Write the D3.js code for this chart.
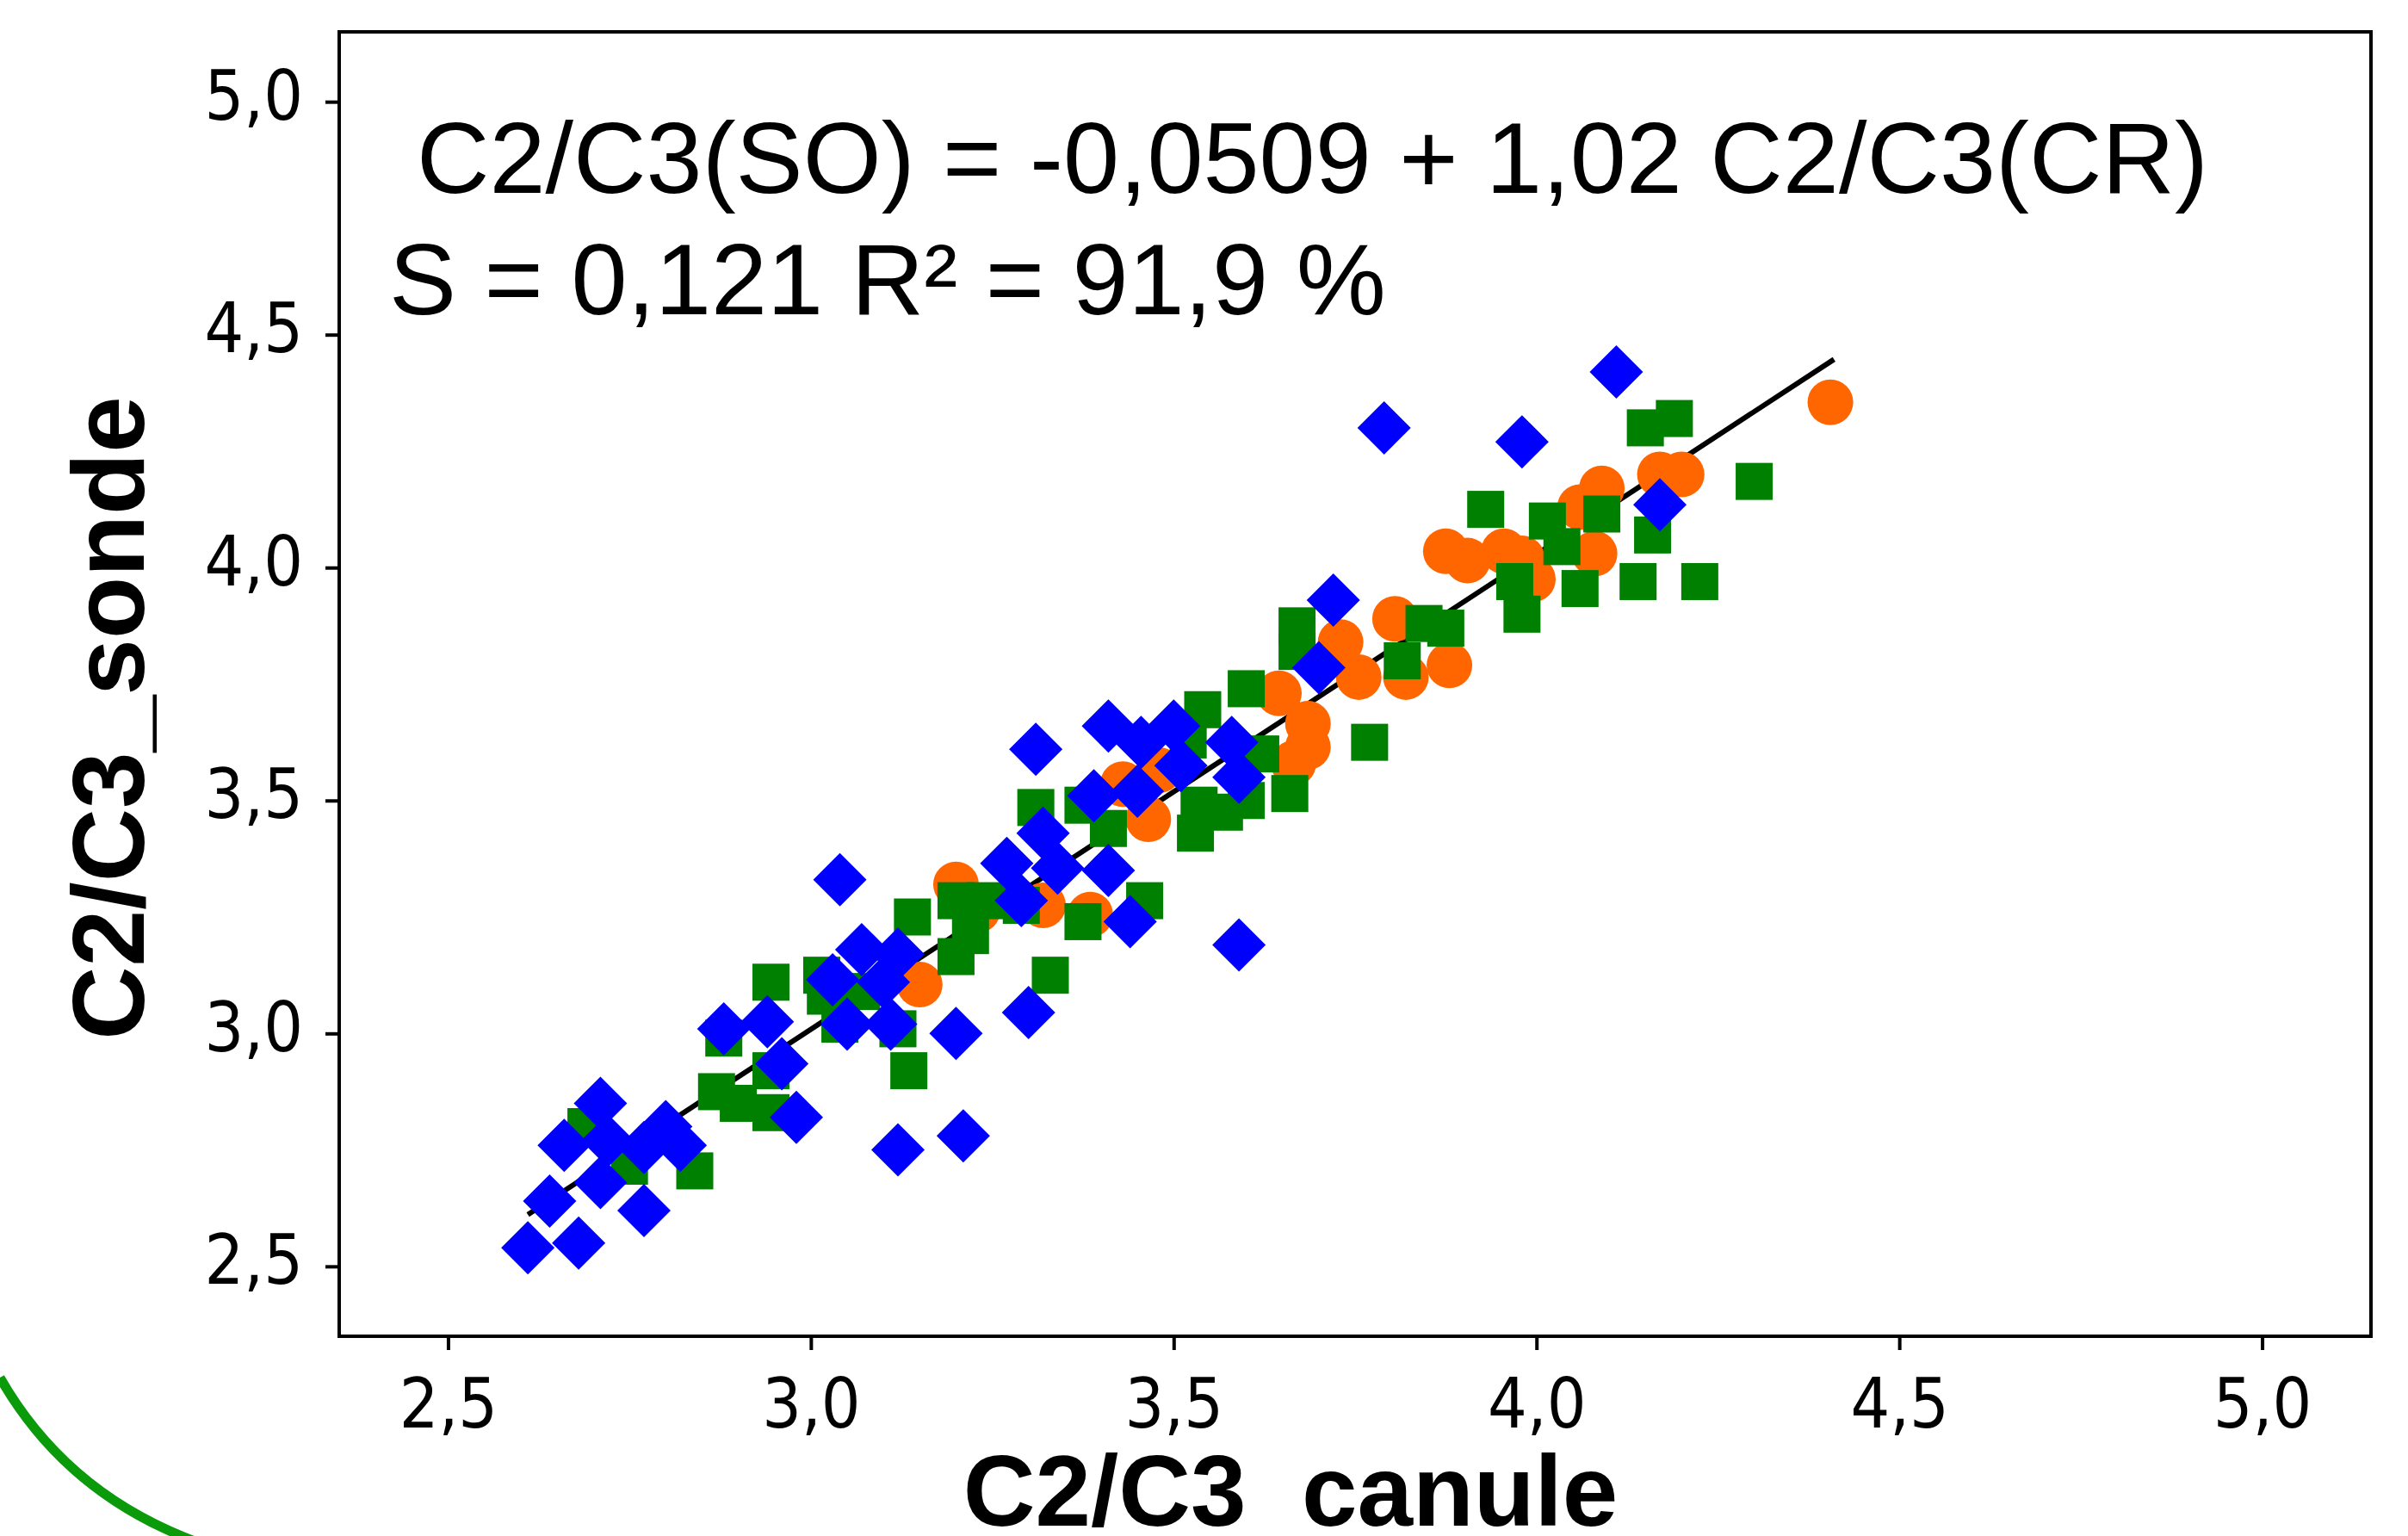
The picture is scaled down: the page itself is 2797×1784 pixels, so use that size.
<!DOCTYPE html>
<html>
<head>
<meta charset="utf-8">
<script src="https://cdn.jsdelivr.net/npm/d3@7"></script>
<style>
  body { margin: 0; background: #fff; }
  svg { display: block; }
</style>
</head>
<body>
<script>
// data

const xTicks = [2.5, 3.0, 3.5, 4.0, 4.5, 5.0];
const yTicks = [2.5, 3.0, 3.5, 4.0, 4.5, 5.0];

const orangeX = [3.20, 3.15, 3.23, 3.875, 3.805, 3.73, 3.755, 3.82, 3.88, 3.645, 3.685, 3.685, 3.665, 3.48,
  3.465, 3.43, 3.385, 3.32, 4.405, 4.09, 4.06, 4.17, 4.20, 3.905, 3.955, 3.98, 4.08, 3.995];
const orangeY = [3.32, 3.105, 3.265, 4.035, 3.89, 3.84, 3.765, 3.765, 3.79, 3.73, 3.665, 3.615, 3.58, 3.565,
  3.46, 3.535, 3.255, 3.275, 4.355, 4.17, 4.13, 4.20, 4.20, 4.015, 4.035, 4.02, 4.03, 3.975];

const greenX = [2.945, 2.84, 3.135, 2.87, 2.90, 2.945, 2.945, 2.88, 2.69, 2.75, 3.015, 3.02, 3.04, 3.12,
  3.14, 3.20, 3.22, 3.20, 3.33, 3.29, 3.07, 3.67, 3.67, 3.60, 3.54, 3.77, 3.66, 3.845, 3.875, 3.815,
  3.53, 3.535, 3.57, 3.60, 3.31, 3.375, 3.41, 3.46, 3.375, 3.24, 4.19, 4.15, 4.30, 3.93, 4.015, 4.09,
  4.16, 4.035, 3.97, 3.98, 4.06, 4.14, 4.225, 3.52, 3.62];
const greenY = [3.11, 2.705, 2.92, 2.875, 2.85, 2.83, 2.92, 2.99, 2.80, 2.715, 3.125, 3.08, 3.02, 3.01,
  3.25, 3.285, 3.21, 3.165, 3.125, 3.275, 3.09, 3.875, 3.82, 3.74, 3.695, 3.625, 3.515, 3.88, 3.87, 3.80,
  3.43, 3.49, 3.475, 3.50, 3.485, 3.49, 3.44, 3.285, 3.24, 3.285, 4.32, 4.30, 4.185, 4.125, 4.10, 4.115,
  4.07, 4.045, 3.97, 3.90, 3.955, 3.97, 3.97, 3.63, 3.60];

const blueX = [2.61, 2.68, 2.64, 2.66, 2.71, 2.71, 2.77, 2.80, 2.77, 2.82, 2.72, 2.88, 2.94, 2.96, 2.98,
  3.04, 3.07, 3.12, 3.03, 3.10, 3.05, 3.11, 3.20, 3.30, 3.12, 3.21, 3.27, 3.72, 3.70, 3.31, 3.41, 3.50,
  3.58, 3.59, 3.51, 3.39, 3.45, 3.32, 3.34, 3.29, 3.41, 3.44, 3.59, 4.11, 3.98, 3.79, 4.17, 3.455];
const blueY = [2.54, 2.55, 2.64, 2.76, 2.85, 2.68, 2.62, 2.80, 2.755, 2.76, 2.77, 3.01, 3.025, 2.935, 2.82,
  3.33, 3.18, 3.17, 3.115, 3.11, 3.02, 3.02, 3.00, 3.045, 2.75, 2.78, 3.365, 3.93, 3.785, 3.61, 3.66, 3.66,
  3.625, 3.55, 3.575, 3.51, 3.52, 3.43, 3.355, 3.285, 3.35, 3.24, 3.19, 4.42, 4.27, 4.30, 4.135, 3.625];

// fitted line end points
const fitX = [2.61, 4.41];
const fitY = [2.611, 4.447];

const w = 2797;
const h = 1784;
const plotLeft = 394, plotRight = 2754, plotTop = 37, plotBottom = 1552;

const xScale = d3.scaleLinear().domain([2.35, 5.15]).range([plotLeft, plotRight]);
const yScale = d3.scaleLinear().domain([2.35, 5.15]).range([plotBottom, plotTop]);

const fmt = (d) => d3.format(".1f")(d).replace(".", ",");
const tickFont = "'DejaVu Sans Condensed', 'DejaVu Sans', sans-serif";
const titleFont = "'Liberation Sans', Arial, sans-serif";

const svg = d3.select("body")
  .append("svg")
  .attr("width", w)
  .attr("height", h);

svg.append("rect")
  .attr("width", w)
  .attr("height", h)
  .attr("fill", "#fff");

// decorative arc of the slide, bottom left
svg.append("path")
  .attr("d", "M 0 1600 Q 80 1740 240 1795")
  .attr("fill", "none")
  .attr("stroke", "#0a9a0a")
  .attr("stroke-width", 11);

// axes
const yAxis = d3.axisLeft(yScale).tickValues(yTicks).tickSize(16).tickPadding(26).tickFormat(fmt);
const xAxis = d3.axisBottom(xScale).tickValues(xTicks).tickSize(16).tickPadding(33).tickFormat(fmt);

const gy = svg.append("g")
  .attr("transform", `translate(${plotLeft}, 0)`)
  .call(yAxis);
gy.select(".domain").remove();
gy.selectAll(".tick line").attr("stroke", "#000").attr("stroke-width", 4);
gy.selectAll(".tick text")
  .attr("dy", "0.25em")
  .attr("fill", "#000")
  .style("font-family", tickFont)
  .style("font-size", "80px");

const gx = svg.append("g")
  .attr("transform", `translate(0, ${plotBottom})`)
  .call(xAxis);
gx.select(".domain").remove();
gx.selectAll(".tick line").attr("stroke", "#000").attr("stroke-width", 4);
gx.selectAll(".tick text")
  .attr("fill", "#000")
  .style("font-family", tickFont)
  .style("font-size", "80px");

// regression line (under the markers)
const fit = fitX.map((d, i) => [d, fitY[i]]);
svg.append("path")
  .datum(fit)
  .attr("d", d3.line().x((d) => xScale(d[0])).y((d) => yScale(d[1])))
  .attr("fill", "none")
  .attr("stroke", "#000")
  .attr("stroke-width", 6);

const orange = orangeX.map((d, i) => [d, orangeY[i]]);
const green = greenX.map((d, i) => [d, greenY[i]]);
const blue = blueX.map((d, i) => [d, blueY[i]]);

svg.append("g")
  .selectAll("circle")
  .data(orange)
  .enter()
  .append("circle")
  .attr("cx", (d) => xScale(d[0]))
  .attr("cy", (d) => yScale(d[1]))
  .attr("r", 26.5)
  .attr("fill", "#ff6600");

const sq = 43;
svg.append("g")
  .selectAll("rect")
  .data(green)
  .enter()
  .append("rect")
  .attr("x", (d) => xScale(d[0]) - sq / 2)
  .attr("y", (d) => yScale(d[1]) - sq / 2)
  .attr("width", sq)
  .attr("height", sq)
  .attr("fill", "#008000");

const dm = 31;
svg.append("g")
  .selectAll("path")
  .data(blue)
  .enter()
  .append("path")
  .attr("d", (d) => {
    const cx = xScale(d[0]), cy = yScale(d[1]);
    return `M${cx},${cy - dm}L${cx + dm},${cy}L${cx},${cy + dm}L${cx - dm},${cy}Z`;
  })
  .attr("fill", "#0000ff");

// frame
svg.append("rect")
  .attr("x", plotLeft)
  .attr("y", plotTop)
  .attr("width", plotRight - plotLeft)
  .attr("height", plotBottom - plotTop)
  .attr("fill", "none")
  .attr("stroke", "#000")
  .attr("stroke-width", 4);

// equation text
svg.append("text")
  .attr("x", 484)
  .attr("y", 224)
  .style("font-family", titleFont)
  .style("font-size", "117px")
  .text("C2/C3(SO) = -0,0509 + 1,02 C2/C3(CR)");

svg.append("text")
  .attr("x", 452)
  .attr("y", 365)
  .style("font-family", titleFont)
  .style("font-size", "117px")
  .text("S = 0,121 R² = 91,9 %");

// axis titles
svg.append("text")
  .attr("transform", "translate(167, 834) rotate(-90)")
  .attr("text-anchor", "middle")
  .style("font-family", titleFont)
  .style("font-size", "118px")
  .style("font-weight", "bold")
  .text("C2/C3_sonde");

svg.append("text")
  .attr("x", 1499)
  .attr("y", 1772)
  .attr("text-anchor", "middle")
  .style("font-family", titleFont)
  .style("font-size", "116px")
  .style("font-weight", "bold")
  .style("white-space", "pre")
  .text("C2/C3  canule");
</script>
</body>
</html>
